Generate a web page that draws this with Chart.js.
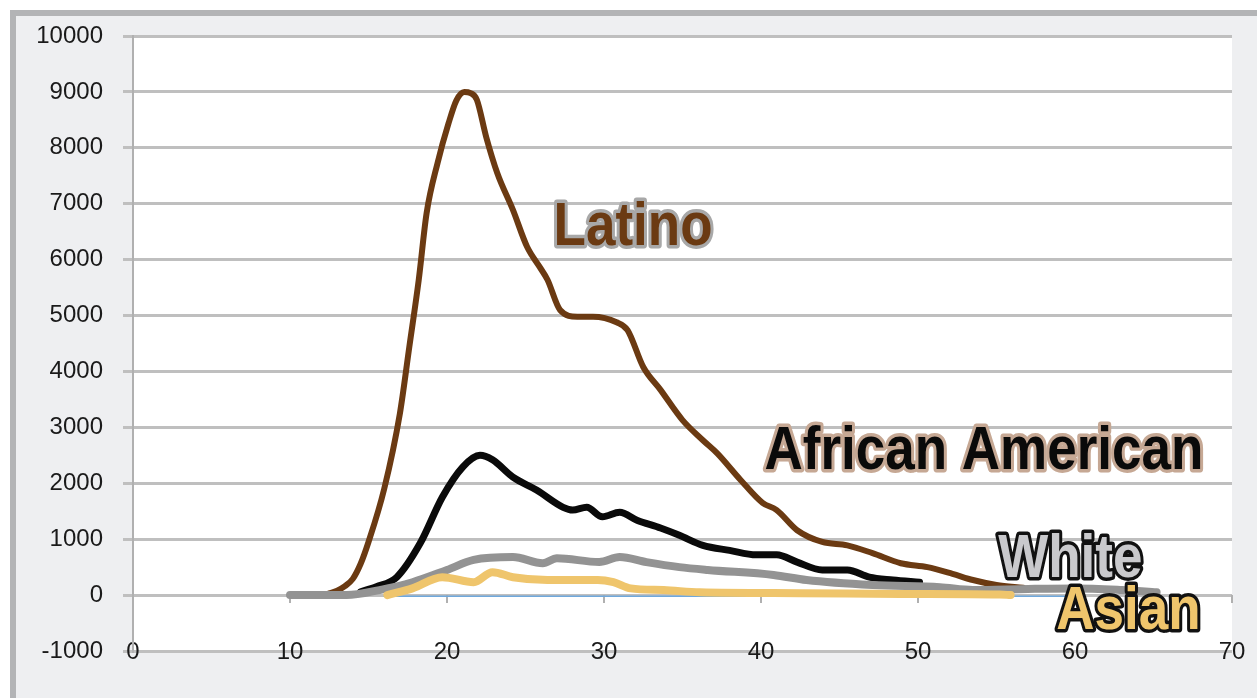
<!DOCTYPE html>
<html>
<head>
<meta charset="utf-8">
<script src="https://cdn.jsdelivr.net/npm/chart.js@4/dist/chart.umd.min.js"></script>
<style>
  html, body { margin: 0; padding: 0; background: #fff; }
  canvas { display: block; }
</style>
</head>
<body>
<canvas id="ageChart" width="1257" height="698"></canvas>
<script>
// Ages (x) and counts (y)
const latinoAges = [12.5, 13, 13.5, 14, 14.5, 15, 16, 17, 17.6, 18.2, 18.7, 19.4, 20.1, 20.6, 21.1, 21.5, 21.9, 22.5, 23.2, 24.2, 25.1, 25.9, 26.4, 27.2, 28.3, 29.3, 30.8, 31.5, 32.5, 33.6, 35.0, 36.3, 37.2, 38.7, 40.1, 41.0, 42.3, 43.9, 45.5, 47.1, 48.9, 50.6, 52.2, 53.5, 55.0, 56.7];
const latinoValues = [30, 80, 160, 290, 560, 950, 1900, 3250, 4440, 5640, 6830, 7730, 8440, 8850, 9000, 8980, 8860, 8190, 7550, 6890, 6230, 5870, 5640, 5100, 4980, 4980, 4880, 4740, 4080, 3670, 3130, 2770, 2540, 2060, 1650, 1520, 1160, 950, 890, 750, 570, 500, 380, 270, 180, 130];

const africanAges = [14.5, 15.5, 16.8, 18.3, 19.7, 21.0, 22.1, 22.9, 24.2, 25.7, 27.4, 28.0, 28.9, 29.9, 31.0, 32.1, 33.6, 34.8, 36.3, 38.0, 39.7, 41.0, 42.3, 43.9, 45.5, 46.9, 48.4, 50.1];
const africanValues = [60, 150, 320, 930, 1750, 2290, 2500, 2420, 2110, 1880, 1570, 1520, 1570, 1400, 1480, 1340, 1200, 1070, 890, 800, 720, 720, 590, 450, 450, 320, 270, 230];

const whiteAges = [10, 13.6, 15.7, 17.8, 20.0, 21.7, 24.2, 26.1, 27.0, 29.7, 31.0, 32.7, 34.8, 36.6, 40.8, 42.9, 47.1, 51.4, 53.5, 57, 60, 63, 65.2];
const whiteValues = [0, 0, 90, 230, 450, 630, 680, 570, 660, 590, 680, 590, 500, 450, 360, 270, 180, 140, 90, 110, 120, 90, 50];

const asianAges = [16.2, 17.8, 19.7, 21.7, 22.9, 24.2, 26.4, 29.6, 30.6, 31.7, 33.8, 36.1, 42.5, 48.9, 55.2, 55.9];
const asianValues = [0, 120, 320, 230, 410, 320, 270, 270, 230, 120, 90, 50, 35, 20, 10, 0];

const otherAges = [16, 30, 45, 60];
const otherValues = [-20, -20, -20, -20];

const xTicks = [0, 10, 20, 30, 40, 50, 60, 70];

// Series labels drawn on the plot: [text, x, y, fill, outline]
const seriesLabels = [
    ['Latino', 31.85, 6565, '#6b3a12', '#a8a8a8'],
    ['African American', 54.2, 2560, '#0a0a0a', '#c6a894'],
    ['White', 59.7, 630, '#c9c9cc', '#111111'],
    ['Asian', 63.4, -300, '#efc56c', '#111111']
];

function toPoints(xs, ys) {
    return xs.map((x, i) => ({ x: x, y: ys[i] }));
}

// Frame, grey surround and white plot area
const backgroundPlugin = {
    id: 'background',
    beforeDraw(chart) {
        const ctx = chart.ctx;
        const area = chart.chartArea;
        ctx.save();
        ctx.fillStyle = '#ffffff';
        ctx.fillRect(0, 0, chart.width, chart.height);
        ctx.fillStyle = '#eeeff1';
        ctx.fillRect(13, 13, chart.width, chart.height);
        ctx.strokeStyle = '#b3b4b6';
        ctx.lineWidth = 6;
        ctx.strokeRect(13, 13, chart.width + 20, chart.height + 20);
        ctx.fillStyle = '#ffffff';
        ctx.fillRect(area.left, area.top, area.right - area.left, area.bottom - area.top);
        ctx.restore();
    }
};

// Small tick marks hanging off the zero line
const zeroTicksPlugin = {
    id: 'zeroTicks',
    beforeDatasetsDraw(chart) {
        const ctx = chart.ctx;
        const xs = chart.scales.x;
        const y0 = chart.scales.y.getPixelForValue(0);
        ctx.save();
        ctx.strokeStyle = '#b0b0b0';
        ctx.lineWidth = 2;
        xTicks.slice(1).forEach(v => {
            const px = xs.getPixelForValue(v);
            ctx.beginPath();
            ctx.moveTo(px, y0);
            ctx.lineTo(px, y0 + 8);
            ctx.stroke();
        });
        ctx.restore();
    }
};

// Outlined series names
const seriesLabelPlugin = {
    id: 'seriesLabels',
    afterDatasetsDraw(chart) {
        const ctx = chart.ctx;
        const xs = chart.scales.x;
        const ys = chart.scales.y;
        ctx.save();
        ctx.font = "bold 53px 'Liberation Sans', Arial, sans-serif";
        ctx.textAlign = 'center';
        ctx.textBaseline = 'middle';
        ctx.lineJoin = 'round';
        seriesLabels.forEach(([text, x, y, fill, outline]) => {
            ctx.save();
            ctx.translate(xs.getPixelForValue(x), ys.getPixelForValue(y));
            ctx.scale(1, 1.15);
            ctx.lineWidth = 6;
            ctx.strokeStyle = outline;
            ctx.strokeText(text, 0, 0);
            ctx.fillStyle = fill;
            ctx.fillText(text, 0, 0);
            ctx.restore();
        });
        ctx.restore();
    }
};

const ctx = document.getElementById('ageChart').getContext('2d');

new Chart(ctx, {
    type: 'line',
    data: {
        datasets: [
            { label: 'Asian', data: toPoints(asianAges, asianValues), borderColor: '#efc56c', borderWidth: 8, order: 0 },
            { label: 'White', data: toPoints(whiteAges, whiteValues), borderColor: '#939393', borderWidth: 8, order: 1 },
            { label: 'African American', data: toPoints(africanAges, africanValues), borderColor: '#0a0a0a', borderWidth: 7, order: 2 },
            { label: 'Latino', data: toPoints(latinoAges, latinoValues), borderColor: '#6b3a12', borderWidth: 6, order: 3 },
            { label: 'Other', data: toPoints(otherAges, otherValues), borderColor: '#6fa8dc', borderWidth: 1.5, order: 4 }
        ]
    },
    options: {
        responsive: false,
        animation: false,
        elements: {
            point: { radius: 0, hoverRadius: 0 },
            line: { cubicInterpolationMode: 'monotone', fill: false, borderCapStyle: 'round', borderJoinStyle: 'round' }
        },
        layout: { padding: { top: 36, right: 25, left: 0, bottom: 0 } },
        plugins: {
            legend: { display: false },
            tooltip: { enabled: false }
        },
        scales: {
            x: {
                type: 'linear',
                min: 0,
                max: 70,
                z: 1,
                afterFit: scale => { scale.height = 47; },
                afterBuildTicks: scale => { scale.ticks = xTicks.map(v => ({ value: v })); },
                ticks: {
                    color: '#1a1a1a',
                    mirror: true,
                    padding: -16,
                    maxRotation: 0,
                    callback: v => String(v),
                    font: { family: "'Liberation Sans', Arial, sans-serif", size: 24 }
                },
                grid: { display: false, drawTicks: false },
                border: { display: false }
            },
            y: {
                min: -1000,
                max: 10000,
                afterFit: scale => { scale.width = 133; },
                ticks: {
                    stepSize: 1000,
                    color: '#1a1a1a',
                    padding: 20,
                    callback: v => String(v),
                    font: { family: "'Liberation Sans', Arial, sans-serif", size: 24 }
                },
                grid: { color: '#bfbfbf', lineWidth: 3, tickLength: 10 },
                border: { color: '#b0b0b0', width: 2 }
            }
        }
    },
    plugins: [backgroundPlugin, zeroTicksPlugin, seriesLabelPlugin]
});
</script>
</body>
</html>
